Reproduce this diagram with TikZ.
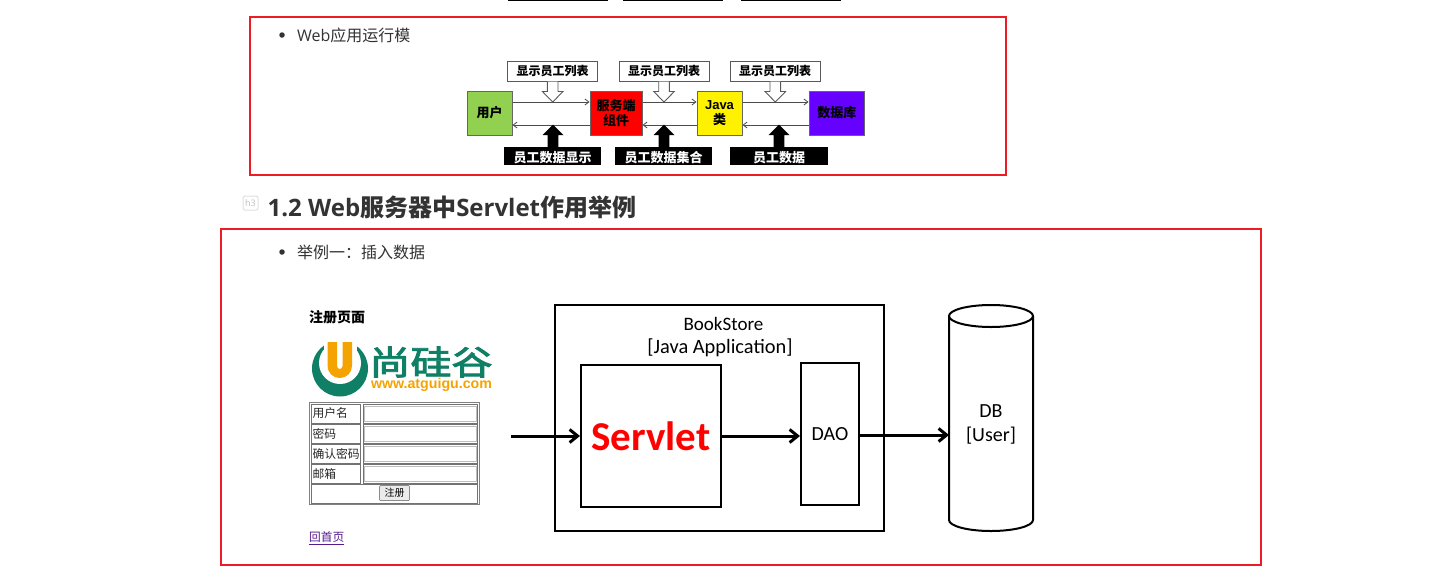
\documentclass[tikz,border=0pt]{standalone}
\usepackage{fontspec}
\usetikzlibrary{arrows.meta}
\setmainfont{Open Sans}
\newfontfamily\cjk{Noto Sans CJK SC}
\newfontfamily\cjklogo[FakeBold=2.5]{Noto Sans CJK SC}
\newfontfamily\carl{Carlito}
\newfontfamily\lib{Liberation Sans}
\definecolor{redbox}{HTML}{ED1C24}
\definecolor{txt}{HTML}{333333}
\definecolor{logogreen}{HTML}{0F7F66}
\definecolor{logoorange}{HTML}{F5A300}
\definecolor{usergreen}{HTML}{92D050}
\definecolor{dbviolet}{HTML}{6600FF}
\definecolor{linkpurple}{HTML}{551A8B}
\tikzset{
  frame/.style={draw=redbox,line width=2pt},
  lab/.style={draw=black!65,line width=1pt,fill=white,inner sep=0pt,font=\cjk\bfseries\fontsize{12}{12}\selectfont},
  blk/.style={fill=black,text=white,inner sep=0pt,text height=14pt,text depth=2pt,font=\cjk\bfseries\fontsize{13}{13}\selectfont},
  comp/.style={draw=black!60,line width=1pt,inner sep=0pt,align=center,minimum height=44pt,font=\cjk\bfseries\fontsize{13}{15}\selectfont},
  flow/.style={draw=black!70,line width=.8pt,-{Straight Barb[length=4pt,width=6pt]}},
  thickbox/.style={draw=black,line width=2pt,inner sep=0pt},
  big/.style={draw=black,line width=3pt,-{Straight Barb[length=8pt,width=13pt]}},
  biglab/.style={inner sep=0pt,align=center,font=\carl\fontsize{20}{24}\selectfont},
  cell/.style={draw=black!55,line width=.8pt,fill=white,inner sep=0pt},
  inp/.style={draw=black!25,line width=1pt,fill=white,inner sep=0pt},
  celltxt/.style={inner sep=0pt,anchor=west,font=\cjk\fontsize{11.8}{13}\selectfont,text=black!85},
  bul/.style={circle,fill=txt,inner sep=0pt,minimum size=5.5pt},
  body/.style={inner sep=0pt,anchor=west,text=txt,font=\fontsize{16}{16}\selectfont}
}
\newcommand{\openarrow}[3]{% x, top y, tip y
  \draw[draw=black!65,line width=.9pt,fill=white] (#1-5.3,#2) -- (#1-5.3,#3-10.5) -- (#1-10.3,#3-10.5) -- (#1,#3) -- (#1+10.3,#3-10.5) -- (#1+5.3,#3-10.5) -- (#1+5.3,#2);}
\newcommand{\solidarrow}[3]{% x, bottom y, tip y
  \fill[black] (#1-5.3,#2) -- (#1-5.3,#3+10.5) -- (#1-10.5,#3+10.5) -- (#1,#3) -- (#1+10.5,#3+10.5) -- (#1+5.3,#3+10.5) -- (#1+5.3,#2) -- cycle;}
\begin{document}
\begin{tikzpicture}[x=1pt,y=-1pt]
\useasboundingbox (0,0) rectangle (1451,582);
\fill[white] (0,0) rectangle (1451,582);
% cut-off bars on top
\foreach \a/\b in {508/608,623/723,741/841}{\fill[black] (\a,0) rectangle (\b,1.2);}
% frames
\draw[frame] (250,17) rectangle (1006,175);
\draw[frame] (221,229) rectangle (1261,565);
% texts
\node[bul] (b1) at (282,35) {};
\node[body] (t1) at (297,35) {Web{\cjk 应用运行模}};
\node[bul] (b2) at (282,252) {};
\node[body] (t2) at (297,252) {\cjk 举例一：插入数据};
\node[draw=black!12,rounded corners=2pt,line width=1pt,text=black!25,inner sep=0pt,minimum width=15pt,minimum height=14pt,font=\fontsize{9}{9}\selectfont] (h3) at (250.5,203) {h3};
\node[inner sep=0pt,anchor=west,text=txt,font=\bfseries\fontsize{24}{24}\selectfont] (head) at (267.5,207) {1.2 Web{\cjk 服务器中}Servlet{\cjk 作用举例}};
% upper diagram
\node[comp,fill=usergreen,minimum width=45pt] (user) at (489.5,113) {用户};
\node[comp,fill=red,minimum width=52pt] (srv) at (616,113) {服务端\\组件};
\node[comp,fill=yellow,minimum width=45pt] (java) at (719.5,113.5) {\lib\bfseries Java\\\cjk\bfseries 类};
\node[comp,fill=dbviolet,minimum width=55.5pt] (db) at (836.75,113) {数据库};
\foreach \p/\q in {user/srv,srv/java,java/db}{
  \draw[flow] ([yshift=11pt]\p.east |- user.east) -- ([yshift=11pt]\q.west |- user.west);
  \draw[flow] ([yshift=-12pt]\q.west |- user.west) -- ([yshift=-12pt]\p.east |- user.east);
}
\node[lab,minimum width=90pt,minimum height=20pt] (l1) at (552.5,71) {显示员工列表};
\node[lab,minimum width=90pt,minimum height=20pt] (l2) at (664,71) {显示员工列表};
\node[lab,minimum width=90pt,minimum height=20pt] (l3) at (775,71) {显示员工列表};
\openarrow{552.7}{81.5}{102}
\openarrow{664}{81.5}{102}
\openarrow{775.3}{81.5}{102}
\node[blk,minimum width=97pt,minimum height=18pt] (d1) at (552.5,156) {员工数据显示};
\node[blk,minimum width=97pt,minimum height=18pt] (d2) at (663.5,156) {员工数据集合};
\node[blk,minimum width=98pt,minimum height=18pt] (d3) at (779,156) {员工数据};
\solidarrow{553}{147}{124.7}
\solidarrow{664}{147}{124.7}
\solidarrow{779}{147}{124.7}
% register page
\node[inner sep=0pt,anchor=west,font=\cjk\bfseries\fontsize{14}{14}\selectfont] (reg) at (309,317.5) {注册页面};
% logo
\fill[logogreen] (340,368.5) circle (28);
\fill[white] (340,363) circle (21);
\fill[white] (323.5,335) rectangle (356.5,352);
\fill[logoorange] (327.5,342) -- (337,342) -- (337,366) arc (180:0:2.75 and 3) -- (342.5,342) -- (352,342) -- (352,366) arc (0:180:12.25 and 12) -- cycle;
\node[inner sep=0pt,text=logogreen,font=\cjklogo\fontsize{41}{41}\selectfont] (logot) at (431,362) {\scalebox{1}[.82]{尚硅谷}};
\node[inner sep=0pt,text=logoorange,font=\lib\bfseries\fontsize{14.2}{15}\selectfont] (logou) at (431.5,385) {www.atguigu.com};
% table
\node[draw=black!50,line width=.8pt,inner sep=0pt,minimum width=170.5pt,minimum height=102pt] (tbl) at (394.2,453) {};
\foreach \y/\t in {413.5/用户名,433.5/密码,453.5/确认密码,473.5/邮箱}{
  \node[cell,minimum width=49.5pt,minimum height=19pt] (c\y) at (335.8,\y) {};
  \node[celltxt] (ct\y) at (312.3,\y) {\t};
  \node[cell,minimum width=114.5pt,minimum height=19pt] (e\y) at (420.3,\y) {};
  \node[inp,minimum width=111.5pt,minimum height=15pt] (i\y) at (420.3,\y) {};
}
\node[cell,minimum width=166.5pt,minimum height=19pt] (bc) at (394.2,493.5) {};
\node[draw=black!45,line width=.7pt,fill=black!8,rounded corners=1pt,inner sep=0pt,minimum width=30pt,minimum height=15pt,font=\cjk\fontsize{10}{10}\selectfont] (btn) at (394.5,493) {注册};
\node[inner sep=0pt,anchor=west,text=linkpurple,font=\cjk\fontsize{11.7}{12}\selectfont] (back) at (309,538.5) {\underline{回首页}};
% lower diagram
\node[thickbox,minimum width=329pt,minimum height=226pt] (store) at (719.5,418) {};
\node[inner sep=0pt,font=\carl\fontsize{19}{19}\selectfont] (stl) at (723.5,324) {BookStore};
\node[inner sep=0pt,font=\carl\fontsize{20.4}{20}\selectfont] (stm) at (720,347.5) {[Java Application]};
\node[thickbox,minimum width=140pt,minimum height=142pt,text=red,font=\carl\bfseries\fontsize{41}{41}\selectfont] (servlet) at (651,436) {\raisebox{-1pt}{Servlet}};
\node[thickbox,minimum width=58pt,minimum height=142pt,font=\carl\fontsize{20}{20}\selectfont] (dao) at (830,434) {DAO};
% cylinder
\draw[draw=black,line width=2pt,fill=white] (949,316) -- (949,520) arc (180:0:42 and 11) -- (1033,316);
\draw[draw=black,line width=2pt,fill=white] (991,316) ellipse (42 and 11);
\coordinate (cyl) at (949,435);
\node[biglab] (dbt) at (991,424.5) {DB\\{[}User{]}};
\coordinate (start) at (511,436);
\draw[big] (start) -- (servlet.west |- start);
\draw[big] (servlet.east |- start) -- (dao.west |- start);
\draw[big] (dao.east |- cyl) -- (cyl);
\end{tikzpicture}
\end{document}
